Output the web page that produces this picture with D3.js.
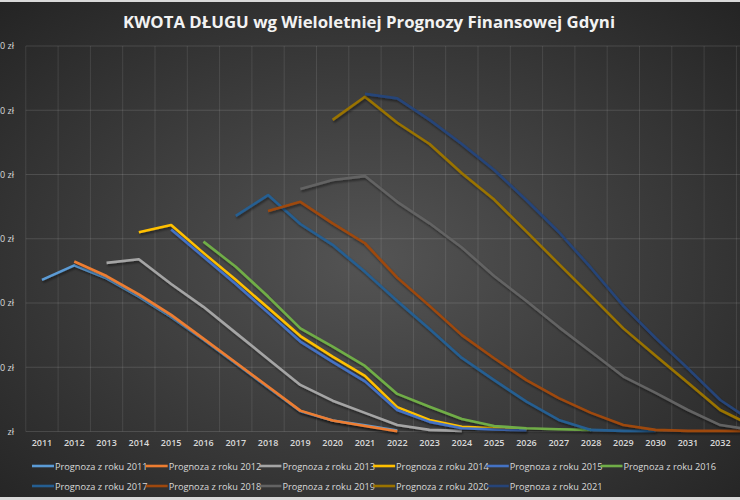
<!DOCTYPE html>
<html lang="pl">
<head>
<meta charset="UTF-8">
<title>Kwota długu Gdyni</title>
<script src="https://d3js.org/d3.v7.min.js"></script>
<style>
    body {
        margin: 0;
        padding: 0;
        background: #d9d9d9;
    }
    svg text {
        font-family: "Open Sans", sans-serif;
    }
</style>
</head>
<body>
<div id="chart"></div>
<script>
    // lata na osi X
    var years = d3.range(2011, 2034);
    var tickYears = d3.range(2011, 2033);
    var yTicks = [0, 200, 400, 600, 800, 1000, 1200]; // mln zł

    var seriesNames = ['Prognoza z roku 2011', 'Prognoza z roku 2012', 'Prognoza z roku 2013',
        'Prognoza z roku 2014', 'Prognoza z roku 2015', 'Prognoza z roku 2016',
        'Prognoza z roku 2017', 'Prognoza z roku 2018', 'Prognoza z roku 2019',
        'Prognoza z roku 2020', 'Prognoza z roku 2021'];
    var startYears = [2011, 2012, 2013, 2014, 2015, 2016, 2017, 2018, 2019, 2020, 2021];
    var colors = ['#5b9bd5', '#ed7d31', '#a5a5a5', '#ffc000', '#4472c4', '#70ad47',
        '#255e91', '#9e480e', '#636363', '#997300', '#264478'];

    // kwota długu w mln zł, od roku prognozy
    var prog2011 = [472, 517, 477, 420, 357, 286, 212, 137, 63, 34, 19, 3];
    var prog2012 = [529, 484, 427, 363, 289, 215, 140, 65, 34, 17, 1];
    var prog2013 = [525, 536, 459, 388, 307, 226, 145, 96, 58, 20, 5, 2];
    var prog2014 = [620, 643, 556, 472, 385, 297, 233, 173, 76, 36, 15, 11, 6];
    var prog2015 = [629, 544, 459, 370, 280, 217, 156, 67, 30, 10, 6, 4];
    var prog2016 = [591, 513, 420, 321, 264, 204, 117, 77, 39, 17, 10, 7, 5];
    var prog2017 = [671, 736, 646, 581, 497, 406, 319, 229, 160, 93, 36, 5, 2, 2];
    var prog2018 = [686, 715, 648, 586, 479, 391, 300, 228, 160, 104, 58, 20, 5, 2, 2, 2];
    var prog2019 = [755, 783, 795, 715, 648, 573, 484, 406, 325, 248, 171, 120, 67, 20, 5];
    var prog2020 = [970, 1042, 961, 895, 804, 722, 622, 522, 422, 321, 236, 152, 67, 17];
    var prog2021 = [1051, 1037, 970, 895, 814, 720, 621, 509, 391, 291, 196, 98, 31];

    var allSeries = [prog2011, prog2012, prog2013, prog2014, prog2015, prog2016,
        prog2017, prog2018, prog2019, prog2020, prog2021];

    var width = 740;
    var height = 500;

    var svg = d3.select('#chart')
        .append('svg')
        .attr('width', width)
        .attr('height', height)
        .style('display', 'block');

    var defs = svg.append('defs');
    var grad = defs.append('radialGradient')
        .attr('id', 'bg')
        .attr('cx', '50%').attr('cy', '52%').attr('r', '72%');
    grad.append('stop').attr('offset', '0%').attr('stop-color', '#545454');
    grad.append('stop').attr('offset', '100%').attr('stop-color', '#242424');

    var shadow = defs.append('filter').attr('id', 'shadow')
        .attr('x', '-5%').attr('y', '-5%').attr('width', '110%').attr('height', '110%');
    shadow.append('feDropShadow')
        .attr('dx', 1).attr('dy', 2).attr('stdDeviation', 1.2)
        .attr('flood-color', '#000').attr('flood-opacity', 0.45);

    svg.append('rect')
        .attr('x', 0).attr('y', 2)
        .attr('width', width).attr('height', 495)
        .attr('fill', 'url(#bg)');

    svg.append('text')
        .attr('x', 369).attr('y', 28)
        .attr('text-anchor', 'middle')
        .attr('fill', '#f2f2f2')
        .style('font-size', '16.8px')
        .style('font-weight', 700)
        .text('KWOTA DŁUGU wg Wieloletniej Prognozy Finansowej Gdyni');

    var x = d3.scaleBand()
        .domain(years)
        .range([25.8, 25.8 + years.length * 32.3])
        .padding(0);

    var y = d3.scaleLinear()
        .domain([0, 1200])
        .range([431.5, 46]);

    var g = svg.append('g');

    // siatka
    g.selectAll('.hgrid')
        .data(yTicks)
        .enter()
        .append('line')
        .attr('x1', x.range()[0]).attr('x2', x.range()[1])
        .attr('y1', d => y(d)).attr('y2', d => y(d))
        .attr('stroke', '#ffffff').attr('stroke-opacity', 0.13);

    g.selectAll('.vgrid')
        .data(years)
        .enter()
        .append('line')
        .attr('x1', d => x(d)).attr('x2', d => x(d))
        .attr('y1', y(1200)).attr('y2', y(0))
        .attr('stroke', '#ffffff').attr('stroke-opacity', 0.1);

    // osie
    var fmt = d3.formatLocale({ decimal: ',', thousands: ' ', grouping: [3], currency: ['', ' zł'] }).format('$,.0f');

    var yAxis = d3.axisLeft(y)
        .tickValues(yTicks)
        .tickSize(0)
        .tickPadding(0)
        .tickFormat(d => d === 0 ? '-    zł' : fmt(d * 1000000));

    svg.append('g')
        .attr('transform', 'translate(14,0)')
        .call(yAxis)
        .call(a => a.select('.domain').remove())
        .selectAll('text')
        .attr('fill', '#d9d9d9')
        .style('font-size', '9px')
        .style('white-space', 'pre');

    var xAxis = d3.axisBottom(x)
        .tickValues(tickYears)
        .tickSize(0)
        .tickPadding(8);

    svg.append('g')
        .attr('transform', 'translate(0,' + y(0) + ')')
        .call(xAxis)
        .call(a => a.select('.domain').remove())
        .selectAll('text')
        .attr('fill', '#d9d9d9')
        .style('font-size', '9px')
        .style('font-weight', 600);

    // linie prognoz
    var line = d3.line()
        .x(d => x(d.year) + x.bandwidth() / 2)
        .y(d => y(d.value));

    allSeries.forEach(function(vals, i) {
        var pts = vals.map((v, j) => ({ year: startYears[i] + j, value: v }));
        g.append('path')
            .datum(pts)
            .attr('d', line)
            .attr('fill', 'none')
            .attr('stroke', colors[i])
            .attr('stroke-width', 2.6)
            .attr('stroke-linejoin', 'round')
            .attr('filter', 'url(#shadow)');
    });

    // legenda
    var legend = svg.append('g');
    seriesNames.forEach(function(name, i) {
        var row = i < 6 ? 0 : 1;
        var col = i < 6 ? i : i - 6;
        var lx = 32 + col * 113.7;
        var ly = row === 0 ? 466 : 486;
        legend.append('line')
            .attr('x1', lx).attr('x2', lx + 22)
            .attr('y1', ly).attr('y2', ly)
            .attr('stroke', colors[i])
            .attr('stroke-width', 2.6);
        legend.append('text')
            .attr('x', lx + 23).attr('y', ly + 3.5)
            .attr('fill', '#d9d9d9')
            .style('font-size', '9.2px')
            .text(name);
    });
</script>
</body>
</html>
